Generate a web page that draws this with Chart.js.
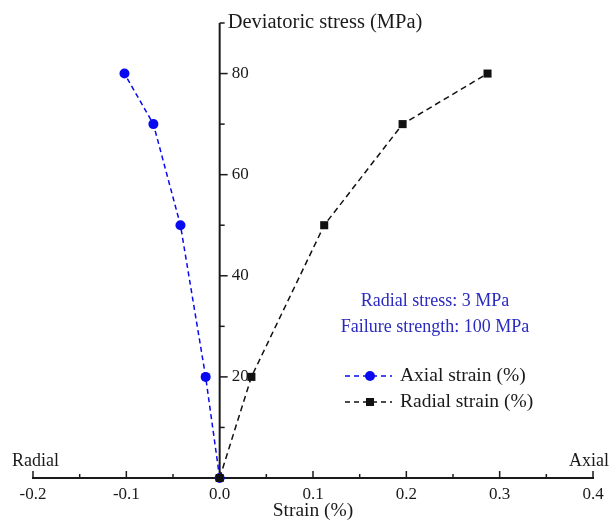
<!DOCTYPE html>
<html>
<head>
<meta charset="utf-8">
<script src="https://cdn.jsdelivr.net/npm/chart.js@4.4.1/dist/chart.umd.min.js"></script>
<style>
    body { margin: 0; background: #fff; }
    #wrap { width: 611px; height: 523px; }
</style>
</head>
<body>
<div id="wrap"><canvas id="strainChart"></canvas></div>
<script>
// deviatoric stress levels (MPa) and the strain read at each level (%)
const stressLevels = [0, 20, 50, 70, 80];
const axialStrain = [0, -0.015, -0.042, -0.071, -0.102];
const radialStrain = [0, 0.034, 0.112, 0.196, 0.287];

const xTickValues = [-0.2, -0.1, 0.0, 0.1, 0.2, 0.3, 0.4];
const xMinorTicks = [-0.15, -0.05, 0.05, 0.15, 0.25, 0.35];
const yTickValues = [20, 40, 60, 80];
const yMinorTicks = [10, 30, 50, 70, 90];

const seriesNames = ["Axial strain (%)", "Radial strain (%)"];
const testNotes = ["Radial stress: 3 MPa", "Failure strength: 100 MPa"];

const SERIF = "'Liberation Serif', 'Times New Roman', serif";
const INK = "#1a1a1a";
const BLUE = "#0a0af0";

function toPoints(xs, ys) {
    return xs.map((v, i) => ({ x: v, y: ys[i] }));
}

function line(ctx, x1, y1, x2, y2) {
    ctx.beginPath();
    ctx.moveTo(x1, y1);
    ctx.lineTo(x2, y2);
    ctx.stroke();
}

// y axis sits on strain = 0, ticks and labels on its right side
const centerAxis = {
    id: "centerAxis",
    beforeDatasetsDraw(chart) {
        const { ctx, scales: { x, y } } = chart;
        const x0 = x.getPixelForValue(0);
        ctx.save();
        ctx.strokeStyle = INK;

        ctx.lineWidth = 1.5;
        xTickValues.forEach(v => line(ctx, x.getPixelForValue(v), y.bottom, x.getPixelForValue(v), y.bottom - 7));
        xMinorTicks.forEach(v => line(ctx, x.getPixelForValue(v), y.bottom, x.getPixelForValue(v), y.bottom - 4));

        ctx.lineWidth = 2;
        line(ctx, x0, y.getPixelForValue(90), x0, y.getPixelForValue(0));
        ctx.lineWidth = 1.5;
        yTickValues.forEach(v => line(ctx, x0, y.getPixelForValue(v), x0 + 8, y.getPixelForValue(v)));
        yMinorTicks.forEach(v => line(ctx, x0, y.getPixelForValue(v), x0 + 5, y.getPixelForValue(v)));

        ctx.fillStyle = INK;
        ctx.font = "17px " + SERIF;
        ctx.textAlign = "left";
        ctx.textBaseline = "middle";
        yTickValues.forEach(v => ctx.fillText(String(v), x0 + 12, y.getPixelForValue(v)));

        ctx.font = "20.5px " + SERIF;
        ctx.fillText("Deviatoric stress (MPa)", x0 + 8, y.getPixelForValue(90));
        ctx.font = "18px " + SERIF;
        ctx.fillText("Radial", 12, 461);
        ctx.textAlign = "right";
        ctx.fillText("Axial", 609, 461);
        ctx.restore();
    },
    afterDraw(chart) {
        const { ctx } = chart;
        ctx.save();
        ctx.textBaseline = "middle";

        ctx.fillStyle = "#2a2ac0";
        ctx.font = "18px " + SERIF;
        ctx.textAlign = "center";
        ctx.fillText(testNotes[0], 435, 301);
        ctx.fillText(testNotes[1], 435, 327);

        // legend
        const rows = [
            { y: 376, color: BLUE, marker: "circle" },
            { y: 402, color: "#111", marker: "rect" }
        ];
        rows.forEach((r, i) => {
            ctx.strokeStyle = r.color;
            ctx.fillStyle = r.color;
            ctx.lineWidth = 1.5;
            ctx.setLineDash([5, 4]);
            line(ctx, 345, r.y, 392, r.y);
            ctx.setLineDash([]);
            if (r.marker === "circle") {
                ctx.beginPath();
                ctx.arc(370, r.y, 5, 0, Math.PI * 2);
                ctx.fill();
            } else {
                ctx.fillRect(366, r.y - 4, 8, 8);
            }
            ctx.fillStyle = INK;
            ctx.font = "19.5px " + SERIF;
            ctx.textAlign = "left";
            ctx.fillText(seriesNames[i], 400, r.y);
        });
        ctx.restore();
    }
};

new Chart(document.getElementById("strainChart"), {
    type: "scatter",
    data: {
        datasets: [
            {
                label: seriesNames[1],
                data: toPoints(radialStrain, stressLevels),
                showLine: true,
                borderColor: "#111",
                backgroundColor: "#111",
                borderWidth: 1.5,
                borderDash: [6, 4],
                pointStyle: "rect",
                pointRadius: 5.7,
                pointBorderWidth: 0,
                clip: false
            },
            {
                label: seriesNames[0],
                data: toPoints(axialStrain, stressLevels),
                showLine: true,
                borderColor: BLUE,
                backgroundColor: BLUE,
                borderWidth: 1.5,
                borderDash: [5, 3.5],
                pointStyle: "circle",
                pointRadius: 5,
                pointBorderWidth: 0,
                clip: false
            }
        ]
    },
    options: {
        responsive: true,
        maintainAspectRatio: false,
        animation: false,
        layout: { padding: { left: 33, right: 18, top: 23, bottom: 0 } },
        plugins: {
            legend: { display: false },
            tooltip: { enabled: false }
        },
        scales: {
            x: {
                type: "linear",
                min: -0.2,
                max: 0.4,
                afterBuildTicks: s => { s.ticks = xTickValues.map(v => ({ value: v })); },
                afterFit: s => { s.height = 45; },
                grid: { display: false, drawTicks: false },
                border: { display: true, color: INK, width: 2 },
                ticks: {
                    color: INK,
                    font: { family: SERIF, size: 17 },
                    padding: 6,
                    maxRotation: 0,
                    autoSkip: false,
                    callback: v => Number(v).toFixed(1)
                },
                title: {
                    display: true,
                    text: "Strain (%)",
                    color: INK,
                    font: { family: SERIF, size: 19.5 },
                    padding: { top: 0, bottom: 0 }
                }
            },
            y: {
                type: "linear",
                display: false,
                min: 0,
                max: 90
            }
        }
    },
    plugins: [centerAxis]
});
</script>
</body>
</html>
